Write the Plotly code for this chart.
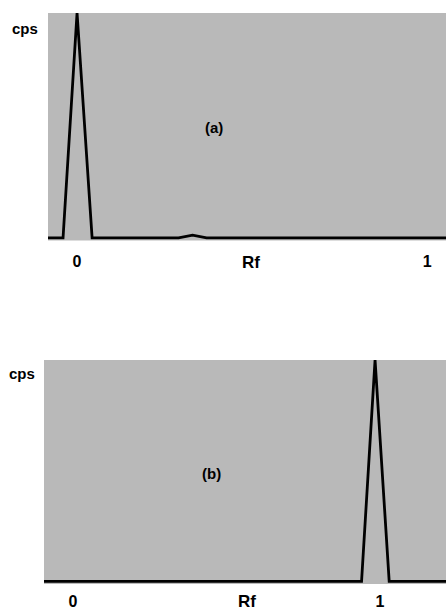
import plotly.graph_objects as go

# Panel (a): radiochromatogram, peak at origin
rf_a = [-0.083, -0.040, 0.000, 0.043, 0.290, 0.330, 0.370, 1.054]
cps_a = [0.0, 0.0, 1.0, 0.0, 0.0, 0.012, 0.0, 0.0]

# Panel (b): peak near solvent front
rf_b = [-0.094, 0.940, 0.984, 1.030, 1.215]
cps_b = [0.0, 0.0, 1.0, 0.0, 0.0]

tick_vals = [0, 1]
tick_text = ["<b>0</b>", "<b>1</b>"]

FONT = "Liberation Sans, Arial, sans-serif"

fig = go.Figure()
fig.add_trace(go.Scatter(x=rf_a, y=cps_a, mode="lines",
                         line=dict(color="black", width=2.8),
                         xaxis="x", yaxis="y", showlegend=False))
fig.add_trace(go.Scatter(x=rf_b, y=cps_b, mode="lines",
                         line=dict(color="black", width=2.8),
                         xaxis="x2", yaxis="y2", showlegend=False))

xcommon = dict(tickvals=tick_vals, ticktext=tick_text, showgrid=False,
               zeroline=False, showline=False, ticks="outside",
               tickcolor="rgba(0,0,0,0)",
               tickfont=dict(family=FONT, size=16, color="black"))
ycommon = dict(showticklabels=False, showgrid=False, zeroline=False,
               showline=False, range=[-0.012, 1.0])

fig.update_layout(
    width=446, height=613,
    margin=dict(l=0, r=0, t=0, b=0),
    paper_bgcolor="white",
    plot_bgcolor="#b9b9b9",
    xaxis=dict(domain=[48/446, 1.0], range=[-0.083, 1.054], anchor="y",
               ticklen=6, **xcommon),
    yaxis=dict(domain=[0.6077, 0.9788], anchor="x", **ycommon),
    xaxis2=dict(domain=[44/446, 1.0], range=[-0.094, 1.215], anchor="y2",
                ticklen=3, **xcommon),
    yaxis2=dict(domain=[0.0473, 0.4127], anchor="x2", **ycommon),
)

annots = [
    dict(text="<b>cps</b>", x=25/446, y=1 - 28/613, xref="paper", yref="paper", size=15),
    dict(text="<b>cps</b>", x=22/446, y=1 - 373/613, xref="paper", yref="paper", size=15),
    dict(text="<b>(a)</b>", x=0.39, y=0.49, xref="x", yref="y", size=15),
    dict(text="<b>(b)</b>", x=0.453, y=0.486, xref="x2", yref="y2", size=15),
    dict(text="<b>Rf</b>", x=251/446, y=1 - 262/613, xref="paper", yref="paper", size=17),
    dict(text="<b>Rf</b>", x=247/446, y=1 - 601/613, xref="paper", yref="paper", size=17),
]
for a in annots:
    sz = a.pop("size")
    fig.add_annotation(showarrow=False, font=dict(family=FONT, size=sz, color="black"),
                       xanchor="center", yanchor="middle", **a)

fig.write_html("out.html", config={"displayModeBar": False},
               post_script="document.body.style.margin='0';document.body.style.overflow='hidden';")
